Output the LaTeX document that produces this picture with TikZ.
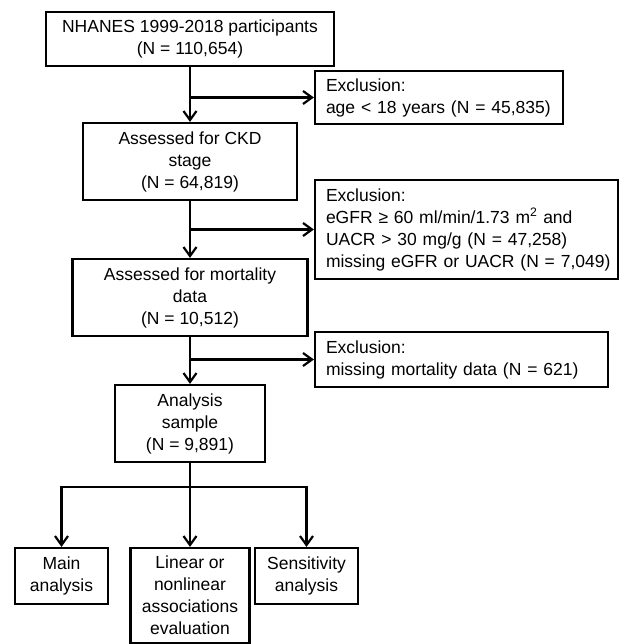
\documentclass[tikz,border=0pt]{standalone}
\usepackage{fontspec}
\setmainfont{Liberation Sans}
\usetikzlibrary{arrows.meta}
\usetikzlibrary{positioning}

\begin{document}
\begin{tikzpicture}[x=1pt,y=-1pt,
          box/.style={draw,line width=2.2pt,align=center,inner sep=0pt,
            font=\fontsize{17.5}{22}\selectfont},
          exbox/.style={box,align=left,execute at begin node={\leftskip=11pt\rightskip=-8pt plus 2em}},
          arr/.style={line width=2.2pt,-{Straight Barb[length=9pt,width=13pt]}}]
          \path[use as bounding box,fill=white] (0,0) rectangle (619,644);
          % main column
          \node[box,minimum width=288pt,minimum height=54pt](top) at (190,39){NHANES 1999-2018 participants\\(N = 110,654)};
          \node[box,minimum width=214pt,minimum height=77pt](ckd) at (190,161.5){Assessed for CKD\\stage\\(N = 64,819)};
          \node[box,minimum width=235pt,minimum height=77pt](mort) at (190,297.5){Assessed for mortality\\data\\(N = 10,512)};
          \node[box,minimum width=150pt,minimum height=77pt](ana) at (190,423.5){Analysis\\sample\\(N = 9,891)};
          % exclusions
          \node[exbox,text width=248pt,minimum height=53pt](ex1) at (439,97.5){Exclusion:\\age < 18 years (N = 45,835)};
          \node[exbox,text width=303pt,minimum height=99pt](ex2) at (466.5,229.5){Exclusion:\\eGFR ≥ 60 ml/min/1.73 m\textsuperscript{2} and\\UACR > 30 mg/g (N = 47,258)\\missing eGFR or UACR (N = 7,049)};
          \node[exbox,text width=293pt,minimum height=55pt](ex3) at (461.5,359.5){Exclusion:\\missing mortality data (N = 621)};
          % analyses
          \node[box,minimum width=93pt,minimum height=56pt](main) at (61.5,576){Main\\analysis};
          \node[box,minimum width=119pt,minimum height=95pt](lin) at (190,595.5){Linear or\\nonlinear\\associations\\evaluation};
          \node[box,minimum width=103pt,minimum height=56pt](sens) at (306.5,576){Sensitivity\\analysis};
          \coordinate (s1) at (top.south |- ex1.west);
          \coordinate (s2) at (ckd.south |- ex2.west);
          \coordinate (s3) at (mort.south |- ex3.west);
          \coordinate (s4) at (190,487);
          \draw[arr](top)--(ckd); \draw[arr](s1)--(ex1.west);
          \draw[arr](ckd)--(mort); \draw[arr](s2)--(ex2.west);
          \draw[arr](mort)--(ana); \draw[arr](s3)--(ex3.west);
          \draw[arr](ana)--(lin);
          \draw[arr](s4)-|(main.north); \draw[arr](s4)-|(sens.north);
        \end{tikzpicture}
\end{document}
